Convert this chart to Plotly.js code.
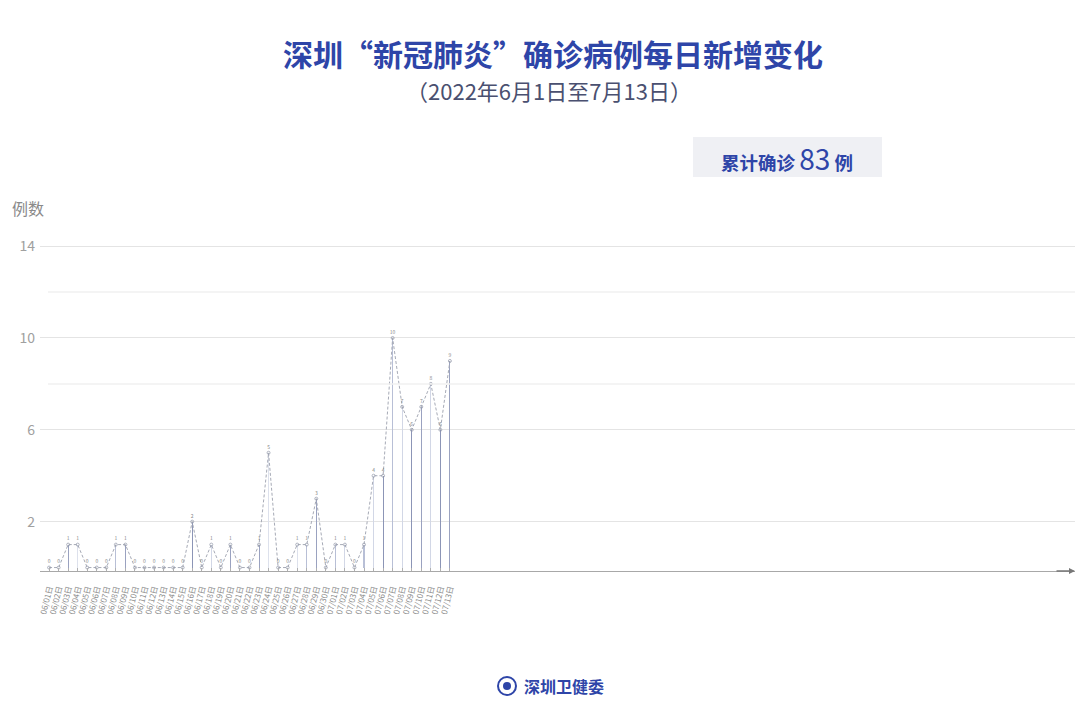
<!DOCTYPE html>
<html>
<head>
<meta charset="utf-8">
<script src="https://cdn.plot.ly/plotly-3.0.1.min.js"></script>
<style>
  html, body { margin: 0; padding: 0; background: #ffffff; }
  #chart { width: 1080px; height: 726px; }
</style>
</head>
<body>
<div id="chart"></div>
<script>
// ---- data ----
const dates = [
  "06/01","06/02","06/03","06/04","06/05","06/06","06/07","06/08","06/09","06/10",
  "06/11","06/12","06/13","06/14","06/15","06/16","06/17","06/18","06/19","06/20",
  "06/21","06/22","06/23","06/24","06/25","06/26","06/27","06/28","06/29","06/30",
  "07/01","07/02","07/03","07/04","07/05","07/06","07/07","07/08","07/09","07/10",
  "07/11","07/12","07/13"
];
const cases = [
  0,0,1,1,0,0,0,1,1,0,
  0,0,0,0,0,2,0,1,0,1,
  0,0,1,5,0,0,1,1,3,0,
  1,1,0,1,4,4,10,7,6,7,
  8,6,9
];
const tickLabels = dates.map(d => d + "日");
const yTicks = [2, 6, 10, 14];
const total = cases.reduce((a, b) => a + b, 0);

// ---- styling ----
const FONT = '"Noto Sans CJK SC", "Noto Sans", sans-serif';
const BLUE = '#2e45a8';
const palette = ['#d2d7e6', '#9aa2c0', '#b8bfd6', '#8c95b6', '#dde1ec'];
const idx = dates.map((_, i) => i);
const barColors = idx.map(i => palette[(i * 3 + Math.floor(i / 4)) % palette.length]);

const W = 1080, H = 726;
const L = 40, R = 5, T = 245, B = 155;
const pw = W - L - R, ph = H - T - B;
const px = X => (X - L) / pw;
const py = Y => (H - B - Y) / ph;

const traces = [
  {
    type: 'bar',
    x: idx,
    y: cases,
    width: 0.11,
    marker: { color: barColors, line: { width: 0 } },
    hoverinfo: 'skip',
    showlegend: false
  },
  {
    type: 'scatter',
    mode: 'lines+markers+text',
    x: idx,
    y: cases,
    text: cases.map(String),
    textposition: 'top center',
    textfont: { family: FONT, size: 5, color: '#888' },
    line: { color: '#a6aab6', width: 1, dash: '3px,2px' },
    marker: { symbol: 'circle-open', size: 3, color: '#9096a8', line: { width: 0.7 } },
    cliponaxis: false,
    showlegend: false
  }
];

const layout = {
  width: W, height: H,
  margin: { l: L, r: R, t: T, b: B },
  paper_bgcolor: '#ffffff',
  plot_bgcolor: '#ffffff',
  font: { family: FONT },
  showlegend: false,
  bargap: 0,
  title: {
    text: '深圳“新冠肺炎”确诊病例每日新增变化',
    font: { family: FONT, size: 30, color: BLUE, weight: 700 },
    x: 553 / W, xanchor: 'center',
    y: 1 - 55 / H, yanchor: 'middle', yref: 'container'
  },
  xaxis: {
    range: [-0.95, 107.5],
    tickmode: 'array',
    tickvals: idx,
    ticktext: tickLabels,
    tickangle: -76,
    tickfont: { family: FONT, size: 8, color: '#8a8a8a' },
    ticks: 'inside', ticklen: 3, tickcolor: '#b0b0b0', tickwidth: 1,
    ticklabelstandoff: 8,
    showgrid: false,
    zeroline: false,
    showline: true, linecolor: '#a8a8a8', linewidth: 1.3,
    fixedrange: true
  },
  yaxis: {
    range: [-0.15, 14.05],
    tickmode: 'array',
    tickvals: yTicks,
    ticktext: yTicks.map(String),
    tickfont: { family: FONT, size: 14, color: '#a0a0a0' },
    ticks: '',
    ticklabelstandoff: 4,
    showgrid: true, gridcolor: '#e4e4e4', gridwidth: 1,
    zeroline: false, showline: false,
    fixedrange: true
  },
  shapes: [
    { type: 'line', xref: 'paper', yref: 'y', x0: px(48), x1: 1, y0: 8, y1: 8,
      line: { color: '#f0f0f0', width: 1.5 } },
    { type: 'line', xref: 'paper', yref: 'y', x0: px(48), x1: 1, y0: 12, y1: 12,
      line: { color: '#f0f0f0', width: 1.5 } },
    { type: 'rect', xref: 'paper', yref: 'paper',
      x0: px(693), x1: px(882), y0: py(177), y1: py(137),
      fillcolor: '#eff0f4', line: { width: 0 }, layer: 'below' },
    { type: 'circle', xref: 'paper', yref: 'paper',
      x0: px(498), x1: px(516), y0: py(695), y1: py(677),
      fillcolor: '#ffffff', line: { color: BLUE, width: 2 } },
    { type: 'circle', xref: 'paper', yref: 'paper',
      x0: px(503), x1: px(511), y0: py(690), y1: py(682),
      fillcolor: BLUE, line: { width: 0 } }
  ],
  annotations: [
    { text: '（2022年6月1日至7月13日）', xref: 'paper', yref: 'paper',
      x: px(549), y: py(90), xanchor: 'center', yanchor: 'middle', showarrow: false,
      font: { family: FONT, size: 22, color: '#4a5070' } },
    { text: '<b>累计确诊</b> <span style="font-size:28px">' + total + '</span> <b>例</b>',
      xref: 'paper', yref: 'paper',
      x: px(787), y: py(158), xanchor: 'center', yanchor: 'middle', showarrow: false,
      font: { family: FONT, size: 18.5, color: BLUE } },
    { text: '例数', xref: 'paper', yref: 'paper',
      x: px(10), y: py(208), xanchor: 'left', yanchor: 'middle', showarrow: false,
      font: { family: FONT, size: 16, color: '#8a8a8a' } },
    { text: '深圳卫健委', xref: 'paper', yref: 'paper',
      x: px(522), y: py(686), xanchor: 'left', yanchor: 'middle', showarrow: false,
      font: { family: FONT, size: 16, color: BLUE, weight: 600 } },
    { text: '', xref: 'paper', yref: 'paper', x: 1, y: 0,
      showarrow: true, arrowhead: 2, arrowsize: 0.8, arrowwidth: 1.5, arrowcolor: '#777',
      ax: -20, ay: 0, axref: 'pixel', ayref: 'pixel' }
  ]
};

Plotly.newPlot('chart', traces, layout, { displayModeBar: false, staticPlot: true });
</script>
</body>
</html>
